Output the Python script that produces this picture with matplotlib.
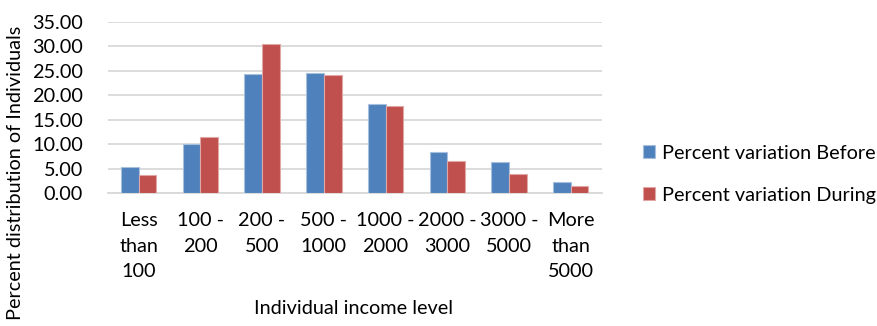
import numpy as np
import matplotlib.pyplot as plt

# data
categories = ['Less\nthan\n100', '100 -\n200', '200 -\n500', '500 -\n1000',
              '1000 -\n2000', '2000 -\n3000', '3000 -\n5000', 'More\nthan\n5000']
before = [5.35, 9.95, 24.4, 24.6, 18.2, 8.4, 6.3, 2.35]
during = [3.65, 11.45, 30.5, 24.1, 17.9, 6.65, 3.8, 1.4]
yticks = [0, 5, 10, 15, 20, 25, 30, 35]

plt.rcParams['font.family'] = ['Lato', 'DejaVu Sans']
fs = 14.3

fig = plt.figure(figsize=(8.77, 3.26), dpi=100)
ax = fig.add_axes([0.1228, 0.408, 0.5632, 0.5245])

x = np.arange(len(categories))
w = 0.287
ax.bar(x - w / 2, before, w, color='#4F81BD', edgecolor='#A7C0DE', linewidth=0.8,
       label='Percent variation Before', zorder=3)
ax.bar(x + w / 2, during, w, color='#C0504D', edgecolor='#E0A7A6', linewidth=0.8,
       label='Percent variation During', zorder=3)

ax.set_xlim(-0.5, len(categories) - 0.5)
ax.set_ylim(0, 35)
ax.set_yticks(yticks)
ax.set_yticklabels(['%.2f' % v for v in yticks], fontsize=fs)
ax.set_xticks(x)
ax.set_xticklabels(categories, fontsize=fs, linespacing=1.6, va='top')
ax.tick_params(axis='both', length=0)
ax.tick_params(axis='y', pad=18)
ax.tick_params(axis='x', pad=14)
ax.grid(axis='y', color='#D9D9D9', linewidth=1.3, zorder=0)
for s in ['top', 'right', 'left']:
    ax.spines[s].set_visible(False)
ax.spines['bottom'].set_color('#D9D9D9')
ax.spines['bottom'].set_linewidth(1.3)

fig.text(354 / 877, 1 - 309 / 326, 'Individual income level', fontsize=fs,
         ha='center', va='center')
fig.text(16 / 877, 1 - 173 / 326, 'Percent distribution of Individuals',
         fontsize=fs, rotation=90, ha='center', va='center')

ax.legend(loc='center left', bbox_to_anchor=(1.048, 0.11), frameon=False,
          fontsize=fs, handlelength=0.6, handleheight=0.6, handletextpad=0.35,
          labelspacing=1.25)

fig.savefig('out.png', dpi=100)
